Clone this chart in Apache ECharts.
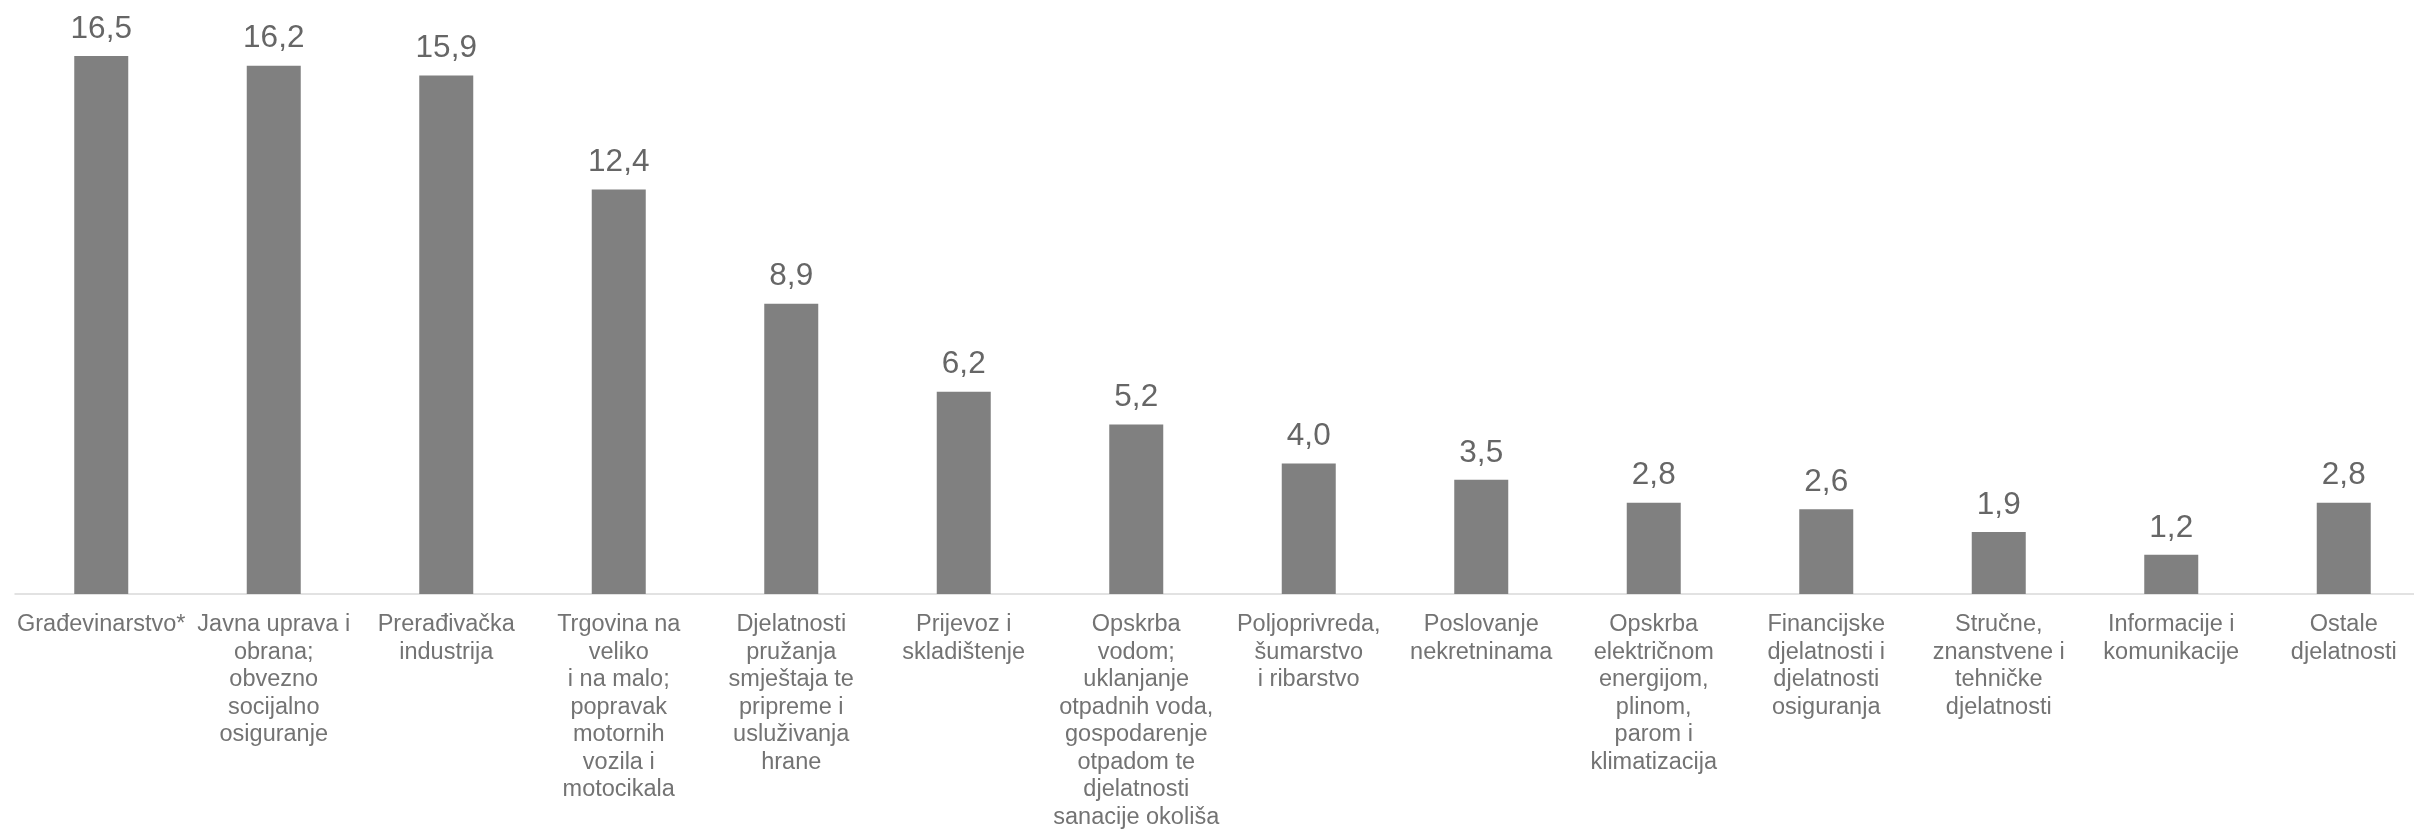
<!DOCTYPE html>
<html>
<head>
<meta charset="utf-8">
<script src="https://cdn.jsdelivr.net/npm/echarts@6/dist/echarts.min.js"></script>
<style>
html,body{margin:0;padding:0;background:#fff;overflow:hidden;width:2414px;height:831px;}
#chart{width:2430px;height:831px;}
</style>
</head>
<body>
<div id="chart"></div>
<script>
const categories = [
  "Građevinarstvo*",
  "Javna uprava i\nobrana;\nobvezno\nsocijalno\nosiguranje",
  "Prerađivačka\nindustrija",
  "Trgovina na\nveliko\ni na malo;\npopravak\nmotornih\nvozila i\nmotocikala",
  "Djelatnosti\npružanja\nsmještaja te\npripreme i\nusluživanja\nhrane",
  "Prijevoz i\nskladištenje",
  "Opskrba\nvodom;\nuklanjanje\notpadnih voda,\ngospodarenje\notpadom te\ndjelatnosti\nsanacije okoliša",
  "Poljoprivreda,\nšumarstvo\ni ribarstvo",
  "Poslovanje\nnekretninama",
  "Opskrba\nelektričnom\nenergijom,\nplinom,\nparom i\nklimatizacija",
  "Financijske\ndjelatnosti i\ndjelatnosti\nosiguranja",
  "Stručne,\nznanstvene i\ntehničke\ndjelatnosti",
  "Informacije i\nkomunikacije",
  "Ostale\ndjelatnosti"
];
const values = [16.5, 16.2, 15.9, 12.4, 8.9, 6.2, 5.2, 4.0, 3.5, 2.8, 2.6, 1.9, 1.2, 2.8];

const chart = echarts.init(document.getElementById('chart'), null, {renderer: 'canvas'});
chart.setOption({
  animation: false,
  backgroundColor: '#ffffff',
  textStyle: {fontFamily: '"Liberation Sans", Arial, sans-serif'},
  grid: {left: 15, right: 0, top: 7, bottom: 235, containLabel: false},
  xAxis: {
    type: 'category',
    data: categories,
    axisLine: {show: true, lineStyle: {color: '#d9d9d9', width: 1.5}},
    axisTick: {show: false},
    axisLabel: {
      interval: 0,
      margin: 17,
      color: '#737373',
      fontSize: 23.5,
      lineHeight: 27.5,
      align: 'center',
      fontFamily: '"Liberation Sans", Arial, sans-serif'
    },
    splitLine: {show: false}
  },
  yAxis: {
    type: 'value',
    min: 0,
    max: 18,
    show: false,
    splitLine: {show: false}
  },
  series: [{
    type: 'bar',
    data: values,
    barWidth: 54,
    itemStyle: {color: '#808080'},
    label: {
      show: true,
      position: 'top',
      distance: 11,
      color: '#666666',
      fontSize: 31.5,
      fontFamily: '"Liberation Sans", Arial, sans-serif',
      formatter: p => p.value.toFixed(1).replace('.', ',')
    }
  }]
});
</script>
</body>
</html>
